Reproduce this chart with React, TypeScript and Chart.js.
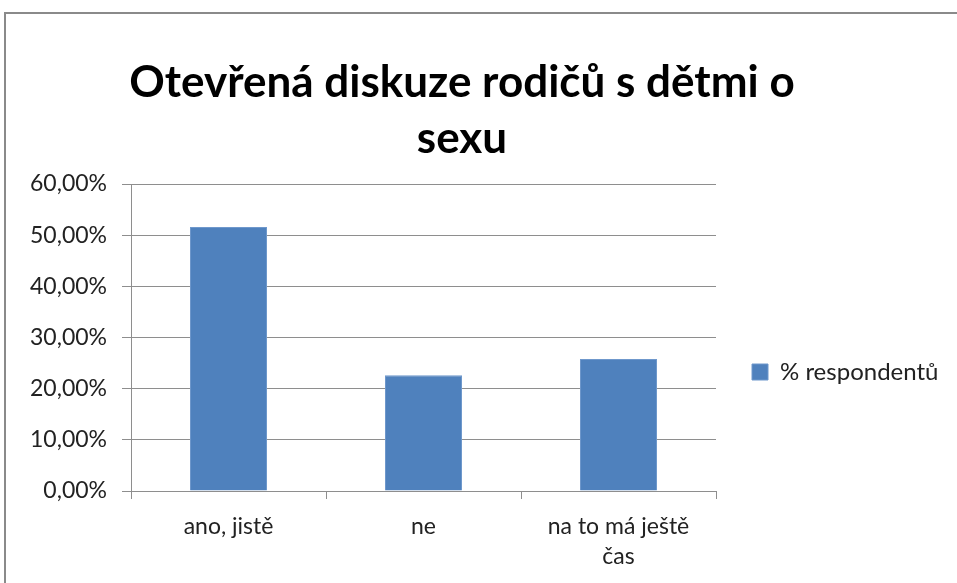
import React, { useEffect, useRef } from 'react';
import { Chart, registerables } from 'chart.js';

Chart.register(...registerables);

const titleLines = ['Otevřená diskuze rodičů s dětmi o', 'sexu'];
const categories: (string | string[])[] = ['ano, jistě', 'ne', ['na to má ještě', 'čas']];
const seriesLabel = '% respondentů';
const seriesValues = [51.6, 22.6, 25.8];
const yMin = 0;
const yMax = 60;
const yStep = 10;

const FONT = 'Lato, "Noto Sans", sans-serif';
const SHIFT = 33; // canvas is shifted left so the title centres like the original
const CANVAS_W = 957 + SHIFT;
const LEGEND_W = 241;

const legendWidthPlugin = {
  id: 'legendWidth',
  beforeLayout(chart: any) {
    const lg: any = chart.legend;
    if (lg && !lg.__fixedWidth) {
      const orig = lg.fit.bind(lg);
      lg.fit = () => {
        orig();
        lg.width = LEGEND_W;
      };
      lg.__fixedWidth = true;
    }
  },
};

export default function App() {
  const ref = useRef<HTMLCanvasElement | null>(null);

  useEffect(() => {
    if (!ref.current) return;
    const chart = new Chart(ref.current, {
      type: 'bar',
      data: {
        labels: categories,
        datasets: [
          {
            label: seriesLabel,
            data: seriesValues,
            backgroundColor: '#4F81BD',
            borderColor: '#6F98CC',
            borderWidth: 1,
            categoryPercentage: 1,
            barPercentage: 0.395,
          },
        ],
      },
      plugins: [legendWidthPlugin],
      options: {
        animation: false,
        responsive: false,
        maintainAspectRatio: false,
        layout: { padding: { top: 0, left: 0, right: 0, bottom: 0 } },
        plugins: {
          tooltip: { enabled: false },
          title: {
            display: true,
            text: titleLines,
            color: '#000',
            font: { family: FONT, size: 44, weight: 'bold', lineHeight: 1.273 },
            padding: { top: 55, bottom: 17 },
          },
          legend: {
            display: true,
            position: 'right',
            title: {
              display: true,
              text: '',
              font: { family: FONT, size: 10, lineHeight: 1 },
              padding: { top: 151, bottom: 0 },
            },
            labels: {
              color: '#222',
              font: { family: FONT, size: 24 },
              boxWidth: 16,
              boxHeight: 16,
              padding: 36,
            },
          },
        },
        scales: {
          x: {
            grid: {
              display: true,
              drawOnChartArea: false,
              drawTicks: true,
              tickLength: 8,
              color: '#8E8E8E',
              offset: true,
            },
            border: { display: true, color: '#8E8E8E' },
            ticks: {
              color: '#222',
              font: { family: FONT, size: 23, lineHeight: 1.3 },
              padding: 13,
              maxRotation: 0,
              autoSkip: false,
            },
            afterFit: (scale: any) => {
              scale.height = 92;
            },
          },
          y: {
            min: yMin,
            max: yMax,
            grid: {
              color: '#8E8E8E',
              tickLength: 9,
              drawTicks: true,
            },
            border: { display: true, color: '#8E8E8E' },
            ticks: {
              stepSize: yStep,
              color: '#222',
              font: { family: FONT, size: 23 },
              padding: 15,
              callback: (v: any) => Number(v).toFixed(2).replace('.', ',') + '%',
            },
            afterFit: (scale: any) => {
              scale.width = 131 + SHIFT;
            },
          },
        },
      },
    });
    return () => chart.destroy();
  }, []);

  return (
    <div
      style={{
        position: 'absolute',
        left: 0,
        top: 0,
        width: 957,
        height: 583,
        overflow: 'hidden',
        background: '#fff',
      }}
    >
      <div
        style={{
          position: 'absolute',
          left: 4,
          top: 12,
          width: 1200,
          height: 1200,
          borderTop: '2px solid #8A8A8A',
          borderLeft: '2px solid #8A8A8A',
          boxSizing: 'border-box',
        }}
      />
      <canvas
        ref={ref}
        width={CANVAS_W}
        height={583}
        style={{
          position: 'absolute',
          left: -SHIFT,
          top: 0,
          width: CANVAS_W,
          height: 583,
          display: 'block',
        }}
      />
    </div>
  );
}
